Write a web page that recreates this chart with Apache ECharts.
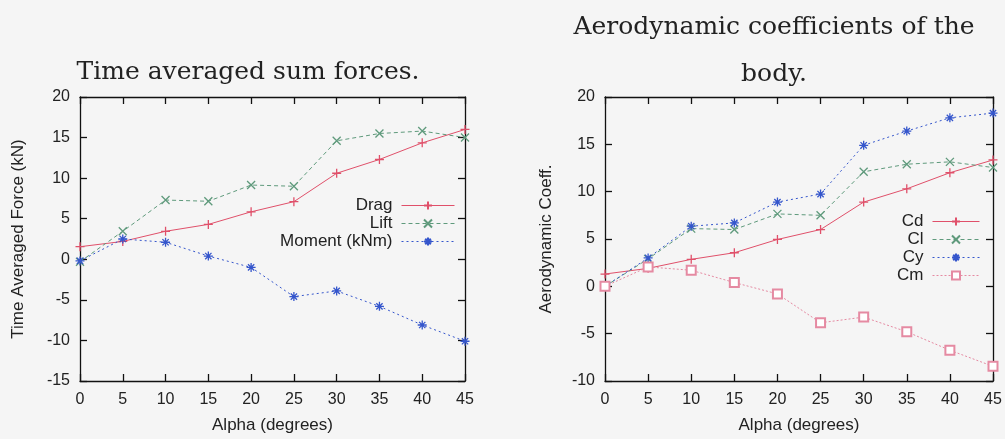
<!DOCTYPE html>
<html><head><meta charset="utf-8">
<script src="https://cdn.jsdelivr.net/npm/echarts@6/dist/echarts.min.js"></script>
<style>html,body{margin:0;padding:0;background:#f5f5f5}#c{width:1005px;height:439px}</style>
</head><body><div id="c"></div>
<script>
const alpha = [0,5,10,15,20,25,30,35,40,45];
const drag   = [1.55,2.2,3.45,4.3,5.85,7.1,10.6,12.3,14.35,16.0];
const lift   = [-0.3,3.45,7.3,7.15,9.15,9.0,14.6,15.5,15.8,15.0];
const moment = [-0.2,2.5,2.1,0.4,-1.0,-4.6,-3.9,-5.8,-8.1,-10.1];
const cd = [1.3,1.9,2.85,3.55,4.95,6.0,8.9,10.3,12.0,13.35];
const cl = [0.0,2.9,6.1,6.0,7.65,7.5,12.1,12.9,13.15,12.55];
const cy = [0.0,3.0,6.35,6.7,8.9,9.75,14.9,16.4,17.8,18.3];
const cm = [0.0,2.05,1.7,0.4,-0.8,-3.85,-3.25,-4.8,-6.75,-8.45];

const pts = v => alpha.map((a,i)=>[a,v[i]]);
const PLUS = 'path://M5,0L5,10M0,5L10,5';
const CROSS = 'path://M0,0L10,10M10,0L0,10';
const STAR = 'path://M5,0L5,10M0,5L10,5M1.5,1.5L8.5,8.5M8.5,1.5L1.5,8.5';
const font = 'Liberation Sans';
const RED='#e0506a', GREEN='#5f9a7c', BLUE='#3556cc', PINK='#e58aa2';

function xAx(grid, pos, show){
  return {type:'value', gridIndex:grid, position:pos, min:0, max:45, interval:5,
    axisLine:{show:true, onZero:false, lineStyle:{color:'#111', width:1.3}},
    axisTick:{show:true, inside:true, length:7, lineStyle:{color:'#111', width:1.3}},
    axisLabel:{show:show, color:'#222', fontFamily:font, fontSize:16, margin:11},
    splitLine:{show:false},
    name: show?'Alpha (degrees)':'', nameLocation:'middle', nameGap:36,
    nameTextStyle:{fontFamily:font, fontSize:17, color:'#222'}};
}
function yAx(grid, pos, show, min, max, name, gap){
  return {type:'value', gridIndex:grid, position:pos, min:min, max:max, interval:5,
    axisLine:{show:true, onZero:false, lineStyle:{color:'#111', width:1.3}},
    axisTick:{show:true, inside:true, length:7, lineStyle:{color:'#111', width:1.3}},
    axisLabel:{show:show, color:'#222', fontFamily:font, fontSize:16, margin:10},
    splitLine:{show:false},
    name: show?name:'', nameLocation:'middle', nameGap:gap, nameRotate:90,
    nameTextStyle:{fontFamily:font, fontSize:17, color:'#222'}};
}
function ser(name, data, xi, yi, color, symbol, size, dash, bw){
  return {name:name, type:'line', xAxisIndex:xi, yAxisIndex:yi, data:pts(data),
    symbol:symbol, symbolSize:size, showSymbol:true,
    itemStyle:{color:color, borderColor:color, borderWidth:bw||1.3},
    lineStyle:{color:color, width:1, type:dash},
    emphasis:{disabled:true}, animation:false, clip:false};
}
const legendText = {fontFamily:font, fontSize:17, color:'#222', padding:[0,4,0,0]};
const chart = echarts.init(document.getElementById('c'));
chart.setOption({
  backgroundColor:'#f5f5f5',
  animation:false,
  title:[
    {text:'Time averaged sum forces.', left:243, top:55, textAlign:'center',
     textStyle:{fontFamily:'DejaVu Serif', fontWeight:'normal', fontSize:25, color:'#222'}},
    {text:'Aerodynamic coefficients of the\nbody.', left:769, top:-1, textAlign:'center',
     textStyle:{fontFamily:'DejaVu Serif', fontWeight:'normal', fontSize:25, color:'#222', lineHeight:47}}
  ],
  grid:[
    {left:80, top:97, width:385, height:285},
    {left:605, top:97, width:388, height:286}
  ],
  xAxis:[xAx(0,'bottom',true), xAx(0,'top',false), xAx(1,'bottom',true), xAx(1,'top',false)],
  yAxis:[yAx(0,'left',true,-15,20,'Time Averaged Force (kN)',53), yAx(0,'right',false,-15,20,'',0),
         yAx(1,'left',true,-10,20,'Aerodynamic Coeff.',50), yAx(1,'right',false,-10,20,'',0)],
  legend:[
    {data:['Drag','Lift','Moment (kNm)'], orient:'vertical', align:'right', right:550, top:197,
     padding:0, itemWidth:53, itemHeight:10, itemGap:1, selectedMode:false,
     lineStyle:{width:1}, textStyle:legendText},
    {data:['Cd','Cl','Cy','Cm'], orient:'vertical', align:'right', right:25, top:213,
     padding:0, itemWidth:47, itemHeight:10, itemGap:1, selectedMode:false,
     lineStyle:{width:1}, textStyle:legendText}
  ],
  series:[
    ser('Drag', drag, 0, 0, RED, PLUS, 9, 'solid'),
    ser('Lift', lift, 0, 0, GREEN, CROSS, 8, [4,3]),
    ser('Moment (kNm)', moment, 0, 0, BLUE, STAR, 9, [2,3]),
    ser('Cd', cd, 2, 2, RED, PLUS, 9, 'solid'),
    ser('Cl', cl, 2, 2, GREEN, CROSS, 8, [4,3]),
    ser('Cy', cy, 2, 2, BLUE, STAR, 9, [2,3]),
    ser('Cm', cm, 2, 2, PINK, 'emptyRect', 9, [2,2], 1)
  ]
});
</script></body></html>
